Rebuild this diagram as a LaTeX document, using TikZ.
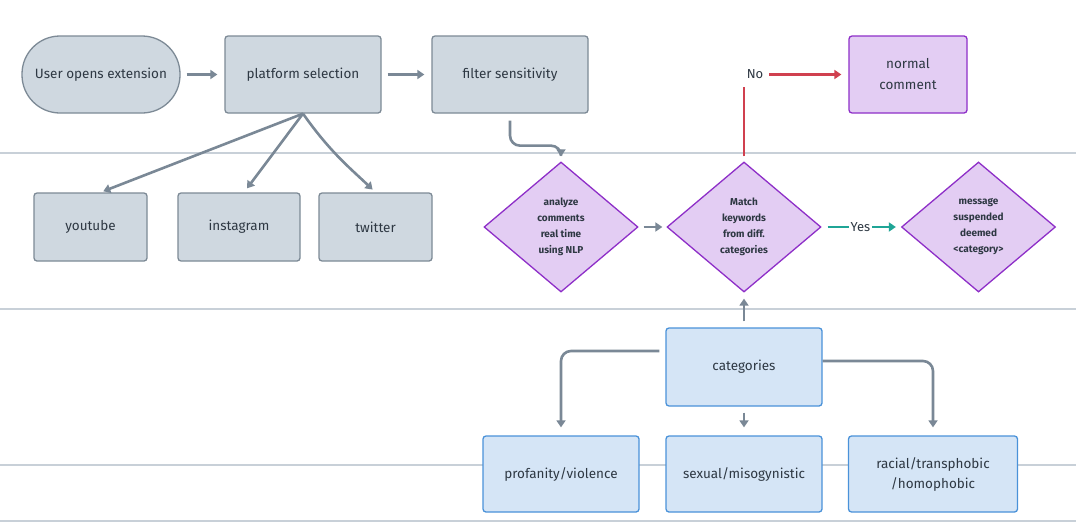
\documentclass[tikz,border=0pt]{standalone}
\usepackage{fontspec}
\setmainfont{Fira Sans}
\usetikzlibrary{shapes.geometric,arrows.meta}
\definecolor{grayfill}{HTML}{CFD8E0}
\definecolor{graydraw}{HTML}{7D8A96}
\definecolor{purfill}{HTML}{E3CDF3}
\definecolor{purdraw}{HTML}{8E2FC8}
\definecolor{bluefill}{HTML}{D5E5F6}
\definecolor{bluedraw}{HTML}{4A92D9}
\definecolor{arrowc}{HTML}{7A8896}
\definecolor{txt}{HTML}{2E3843}
\definecolor{gridc}{HTML}{C8D0D8}
\definecolor{redc}{HTML}{D0404F}
\definecolor{tealc}{HTML}{1FA596}
\tikzset{
  gridline/.style={draw=gridc, line width=1.3pt},
  base/.style={font=\fontsize{13.5}{16}\selectfont, text=txt, align=center, line width=1.3pt, inner sep=0pt},
  graybox/.style={base, rectangle, rounded corners=3pt, fill=grayfill, draw=graydraw},
  bluebox/.style={base, rectangle, rounded corners=3pt, fill=bluefill, draw=bluedraw},
  purbox/.style={base, rectangle, rounded corners=3pt, fill=purfill, draw=purdraw, font=\fontsize{13.5}{21}\selectfont},
  purdia/.style={base, diamond, fill=purfill, draw=purdraw, minimum width=154pt, minimum height=130pt, font=\bfseries\fontsize{10}{16}\selectfont},
  arr/.style={draw=arrowc, line width=2.6pt, -{Triangle[length=7pt,width=9pt]}},
  redarr/.style={arr, draw=redc},
  tealarr/.style={arr, draw=tealc},
  lbl/.style={font=\fontsize{13}{14}\selectfont, text=txt, fill=white, inner sep=2pt}
}
\begin{document}
\begin{tikzpicture}[x=1pt,y=-1pt]
\useasboundingbox[fill=white] (0,0) rectangle (1076,525);
% swimlane lines
\draw[gridline] (0,153) -- (1076,153);
\draw[gridline] (0,309) -- (1076,309);
\draw[gridline] (0,465) -- (1076,465);
\draw[gridline] (0,521) -- (1076,521);

% nodes
\node[graybox, minimum width=158pt, minimum height=77pt, rounded corners=38pt] (user) at (101,74.5) {User opens extension};
\node[graybox, minimum width=156pt, minimum height=77pt] (plat) at (303,74.5) {platform selection};
\node[graybox, minimum width=156pt, minimum height=77pt] (filt) at (510,74.5) {filter sensitivity};
\node[purbox, minimum width=118pt, minimum height=77pt] (norm) at (908,74.5) {normal\\comment};

\node[graybox, minimum width=113pt, minimum height=68pt] (yt) at (90.5,227) {youtube};
\node[graybox, minimum width=122pt, minimum height=68pt] (ig) at (239,227) {instagram};
\node[graybox, minimum width=113pt, minimum height=68pt] (tw) at (375.5,227) {twitter};

\node[purdia] (ana) at (561,227) {analyze\\comments\\real time\\using NLP};
\node[purdia] (match) at (744,227) {Match\\keywords\\from diff.\\categories};
\node[purdia] (msg) at (978.5,227) {message\\suspended\\deemed\\<category>};

\node[bluebox, minimum width=156pt, minimum height=78pt] (cat) at (744,367) {categories};
\node[bluebox, minimum width=156pt, minimum height=76pt] (prof) at (561,474) {profanity/violence};
\node[bluebox, minimum width=156pt, minimum height=76pt] (sex) at (744,474) {sexual/misogynistic};
\node[bluebox, minimum width=169pt, minimum height=76pt, font=\fontsize{13.5}{20}\selectfont] (rac) at (933,474) {racial/transphobic\\/homophobic};

% connectors
\draw[arr, shorten <=6pt, shorten >=7pt] (user.east) -- (plat.west);
\draw[arr, shorten <=6pt, shorten >=7pt] (plat.east) -- (filt.west);
\draw[arr, shorten >=3pt] (plat.south) -- ([xshift=10pt]yt.north);
\draw[arr, shorten >=5pt] (plat.south) -- ([xshift=5pt]ig.north);
\draw[arr, shorten >=4pt] (plat.south) .. controls (330,152) and (350,168) .. (tw.north);
\draw[arr, rounded corners=10pt, shorten <=7pt, shorten >=5pt] (filt.south) -- ++(0,32) -| (ana.north);
\draw[arr, shorten <=5pt, shorten >=4pt] (ana.east) -- (match.west);
\draw[redarr, shorten <=5pt, shorten >=7pt] (match.north) |- (norm.west)
  node[pos=0.5, xshift=11pt, lbl, minimum width=28pt, minimum height=24pt] {No};
\draw[tealarr, shorten <=6pt, shorten >=5pt] (match.east) -- (msg.west)
  node[pos=0.49, lbl] {Yes};
\draw[arr, shorten <=6pt, shorten >=6pt] (cat.north) -- (match.south);
\draw[arr, rounded corners=10pt, shorten <=6pt, shorten >=8pt] ([yshift=16pt]cat.west) -| (prof.north);
\draw[arr, shorten <=6pt, shorten >=8pt] (cat.south) -- (sex.north);
\draw[arr, rounded corners=10pt, shorten >=8pt] ([yshift=6pt]cat.east) -| (rac.north);
\end{tikzpicture}
\end{document}
